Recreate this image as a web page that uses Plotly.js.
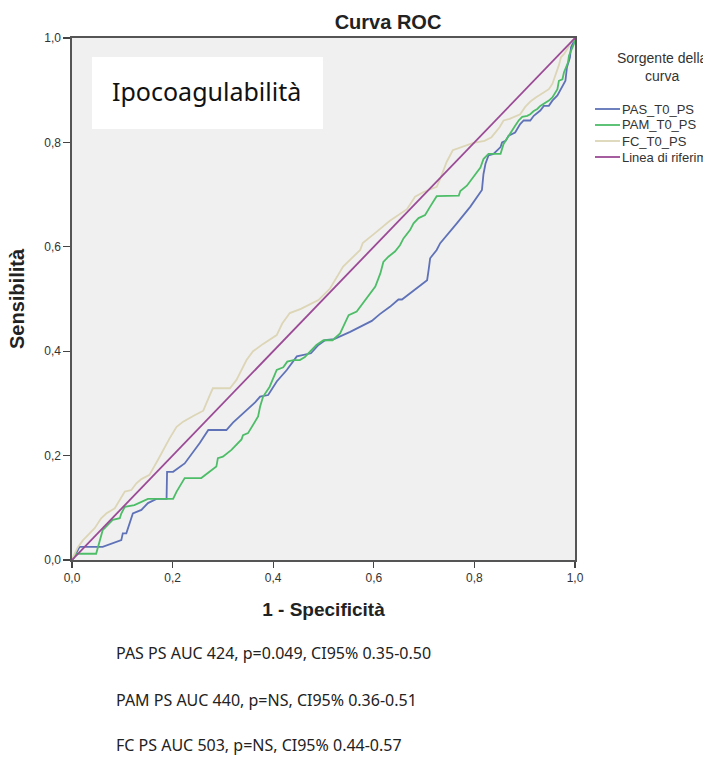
<!DOCTYPE html>
<html>
<head>
<meta charset="utf-8">
<script src="https://cdn.plot.ly/plotly-3.0.1.min.js"></script>
<style>
html,body{margin:0;padding:0;overflow:hidden;background:#fff;}
#chart{width:800px;height:760px;}
</style>
</head>
<body>
<div id="chart"></div>
<script>
// ---- data ----
const pasX = [0, 0.003, 0.015, 0.061, 0.098, 0.101, 0.108, 0.121, 0.138, 0.151, 0.168, 0.188, 0.189, 0.201, 0.224, 0.244, 0.254, 0.271, 0.307, 0.320, 0.347, 0.364, 0.374, 0.390, 0.407, 0.427, 0.447, 0.475, 0.490, 0.503, 0.521, 0.553, 0.596, 0.612, 0.632, 0.649, 0.656, 0.672, 0.706, 0.709, 0.712, 0.725, 0.732, 0.765, 0.792, 0.815, 0.818, 0.822, 0.828, 0.838, 0.852, 0.855, 0.862, 0.868, 0.881, 0.891, 0.898, 0.911, 0.918, 0.931, 0.938, 0.948, 0.955, 0.965, 0.975, 0.981, 0.984, 0.990, 0.992, 1];
const pasY = [0, 0.003, 0.025, 0.025, 0.038, 0.051, 0.051, 0.089, 0.096, 0.109, 0.117, 0.117, 0.169, 0.169, 0.185, 0.211, 0.224, 0.249, 0.249, 0.263, 0.286, 0.302, 0.313, 0.316, 0.342, 0.364, 0.390, 0.396, 0.412, 0.421, 0.423, 0.437, 0.458, 0.471, 0.485, 0.499, 0.499, 0.511, 0.536, 0.556, 0.578, 0.594, 0.607, 0.645, 0.677, 0.709, 0.739, 0.759, 0.775, 0.778, 0.791, 0.800, 0.803, 0.813, 0.819, 0.835, 0.842, 0.842, 0.851, 0.861, 0.870, 0.870, 0.880, 0.890, 0.906, 0.918, 0.944, 0.963, 0.982, 1];

const pamX = [0, 0.008, 0.048, 0.058, 0.061, 0.081, 0.095, 0.098, 0.105, 0.124, 0.151, 0.201, 0.208, 0.224, 0.257, 0.287, 0.290, 0.300, 0.317, 0.337, 0.340, 0.350, 0.364, 0.370, 0.374, 0.380, 0.393, 0.407, 0.420, 0.428, 0.440, 0.453, 0.463, 0.473, 0.486, 0.500, 0.518, 0.533, 0.543, 0.550, 0.566, 0.593, 0.603, 0.613, 0.619, 0.629, 0.642, 0.652, 0.659, 0.672, 0.679, 0.689, 0.702, 0.712, 0.725, 0.769, 0.772, 0.785, 0.792, 0.798, 0.802, 0.812, 0.818, 0.828, 0.852, 0.858, 0.868, 0.875, 0.881, 0.888, 0.895, 0.905, 0.911, 0.918, 0.925, 0.931, 0.938, 0.948, 0.955, 0.961, 0.965, 0.968, 0.975, 0.978, 0.983, 0.986, 0.988, 0.994, 0.998, 1];
const pamY = [0, 0.012, 0.012, 0.051, 0.057, 0.077, 0.080, 0.089, 0.102, 0.105, 0.117, 0.117, 0.131, 0.157, 0.157, 0.179, 0.195, 0.198, 0.211, 0.231, 0.239, 0.243, 0.265, 0.275, 0.294, 0.313, 0.332, 0.364, 0.369, 0.380, 0.383, 0.383, 0.389, 0.399, 0.412, 0.421, 0.421, 0.434, 0.453, 0.469, 0.476, 0.511, 0.524, 0.549, 0.571, 0.581, 0.591, 0.603, 0.616, 0.632, 0.645, 0.655, 0.661, 0.677, 0.697, 0.698, 0.707, 0.717, 0.727, 0.733, 0.739, 0.752, 0.768, 0.778, 0.778, 0.797, 0.813, 0.822, 0.832, 0.842, 0.849, 0.851, 0.854, 0.860, 0.864, 0.870, 0.874, 0.880, 0.886, 0.896, 0.902, 0.918, 0.921, 0.934, 0.944, 0.953, 0.966, 0.979, 0.989, 1];

const fcX = [0, 0.002, 0.012, 0.022, 0.035, 0.045, 0.058, 0.068, 0.085, 0.095, 0.105, 0.118, 0.128, 0.138, 0.154, 0.171, 0.181, 0.194, 0.208, 0.221, 0.241, 0.261, 0.274, 0.280, 0.314, 0.327, 0.347, 0.360, 0.380, 0.407, 0.418, 0.433, 0.455, 0.490, 0.513, 0.539, 0.573, 0.578, 0.606, 0.632, 0.666, 0.682, 0.699, 0.725, 0.732, 0.745, 0.757, 0.775, 0.798, 0.820, 0.834, 0.850, 0.858, 0.870, 0.891, 0.901, 0.912, 0.922, 0.933, 0.948, 0.955, 0.962, 0.968, 0.972, 0.978, 0.984, 0.993, 1];
const fcY = [0, 0.006, 0.025, 0.038, 0.051, 0.061, 0.080, 0.089, 0.099, 0.115, 0.131, 0.134, 0.147, 0.155, 0.163, 0.192, 0.211, 0.233, 0.255, 0.265, 0.276, 0.286, 0.316, 0.329, 0.329, 0.345, 0.383, 0.400, 0.414, 0.431, 0.453, 0.473, 0.481, 0.498, 0.520, 0.562, 0.594, 0.607, 0.629, 0.650, 0.672, 0.696, 0.705, 0.715, 0.730, 0.763, 0.785, 0.791, 0.799, 0.803, 0.810, 0.829, 0.842, 0.845, 0.854, 0.868, 0.879, 0.886, 0.893, 0.902, 0.912, 0.931, 0.948, 0.963, 0.969, 0.978, 0.992, 1];

const refX = [0, 1];
const refY = [0, 1];

const seriesNames = ["PAS_T0_PS", "PAM_T0_PS", "FC_T0_PS", "Linea di riferimento"];
const seriesColors = ["#5f72b8", "#4dbd68", "#dcd5b6", "#9b4b96"];
const legendTitle = "Sorgente della<br>curva";
const tickVals = [0, 0.2, 0.4, 0.6, 0.8, 1.0];
const tickText = ["0,0", "0,2", "0,4", "0,6", "0,8", "1,0"];
const notes = [
  "PAS PS AUC 424, p=0.049, CI95% 0.35-0.50",
  "PAM PS AUC 440, p=NS, CI95% 0.36-0.51",
  "FC PS AUC 503, p=NS, CI95% 0.44-0.57"
];

// ---- chart ----
const W = 800, H = 760;
const mL = 72, mR = W - 575, mT = 38, mB = H - 560;
const pw = W - mL - mR, ph = H - mT - mB;
const px2x = p => (p - mL) / pw;
const py2y = p => (H - mB - p) / ph;

const sansFont = "Liberation Sans, Arial, sans-serif";
const axisFont = {family: sansFont, size: 12, color: "#333"};

const xs = [pasX, pamX, fcX, refX];
const ys = [pasY, pamY, fcY, refY];
const traces = seriesNames.map((n, i) => ({
  x: xs[i], y: ys[i], name: n, mode: "lines",
  line: {color: seriesColors[i], width: 1.8}, showlegend: false
}));

const annotations = [
  {text: "Ipocoagulabilità", xref: "paper", yref: "paper", x: px2x(206), y: py2y(91),
   xanchor: "center", yanchor: "middle", showarrow: false,
   font: {family: "Noto Sans, sans-serif", size: 25, color: "#111"}},
  {text: legendTitle, xref: "paper", yref: "paper", x: px2x(662), y: py2y(67),
   xanchor: "center", yanchor: "middle", showarrow: false, align: "center",
   font: {family: sansFont, size: 14, color: "#333"}}
];
const shapes = [
  {type: "rect", xref: "paper", yref: "paper", x0: px2x(92), x1: px2x(323), y0: py2y(129), y1: py2y(57),
   fillcolor: "#ffffff", line: {width: 0}, layer: "below"}
];
// legend rows (key line + label)
const legendRowY = [109, 125, 141, 157];
seriesNames.forEach((n, i) => {
  shapes.push({type: "line", xref: "paper", yref: "paper",
    x0: px2x(595), x1: px2x(620), y0: py2y(legendRowY[i]), y1: py2y(legendRowY[i]),
    line: {color: seriesColors[i], width: 1.8}});
  annotations.push({text: n, xref: "paper", yref: "paper", x: px2x(621), y: py2y(legendRowY[i]),
    xanchor: "left", yanchor: "middle", showarrow: false, borderpad: 0,
    font: {family: sansFont, size: 13, color: "#333"}});
});
const noteY = [653, 700, 745];
notes.forEach((t, i) => annotations.push({
  text: t, xref: "paper", yref: "paper", x: px2x(114), y: py2y(noteY[i]),
  xanchor: "left", yanchor: "middle", showarrow: false,
  font: {family: "Noto Sans, sans-serif", size: 16, color: "#222"}
}));

const layout = {
  width: W, height: H,
  margin: {l: mL, r: mR, t: mT, b: mB, pad: 0},
  paper_bgcolor: "#ffffff",
  plot_bgcolor: "#f0f0f0",
  separators: ",.",
  showlegend: false,
  title: {text: "<b>Curva ROC</b>", xref: "container", yref: "container",
          x: 388 / W, y: 1 - 22 / H, xanchor: "center", yanchor: "middle",
          font: {family: sansFont, size: 20, color: "#222"}},
  xaxis: {range: [0, 1], tickvals: tickVals, ticktext: tickText,
          showgrid: false, zeroline: false, showline: true, mirror: true,
          linecolor: "#555", linewidth: 1.6, ticks: "outside", ticklen: 6,
          tickcolor: "#444", tickwidth: 1.3, tickfont: axisFont, fixedrange: true,
          title: {text: "<b>1 - Specificità</b>", standoff: 18,
                  font: {family: sansFont, size: 19, color: "#222"}}},
  yaxis: {range: [0, 1], tickvals: tickVals, ticktext: tickText,
          showgrid: false, zeroline: false, showline: true, mirror: true,
          linecolor: "#555", linewidth: 1.6, ticks: "outside", ticklen: 7,
          tickcolor: "#444", tickwidth: 1.3, tickfont: axisFont, fixedrange: true,
          title: {text: "<b>Sensibilità</b>", standoff: 14,
                  font: {family: sansFont, size: 20, color: "#222"}}},
  shapes: shapes,
  annotations: annotations
};

Plotly.newPlot("chart", traces, layout, {displayModeBar: false, staticPlot: true});
</script>
</body>
</html>
